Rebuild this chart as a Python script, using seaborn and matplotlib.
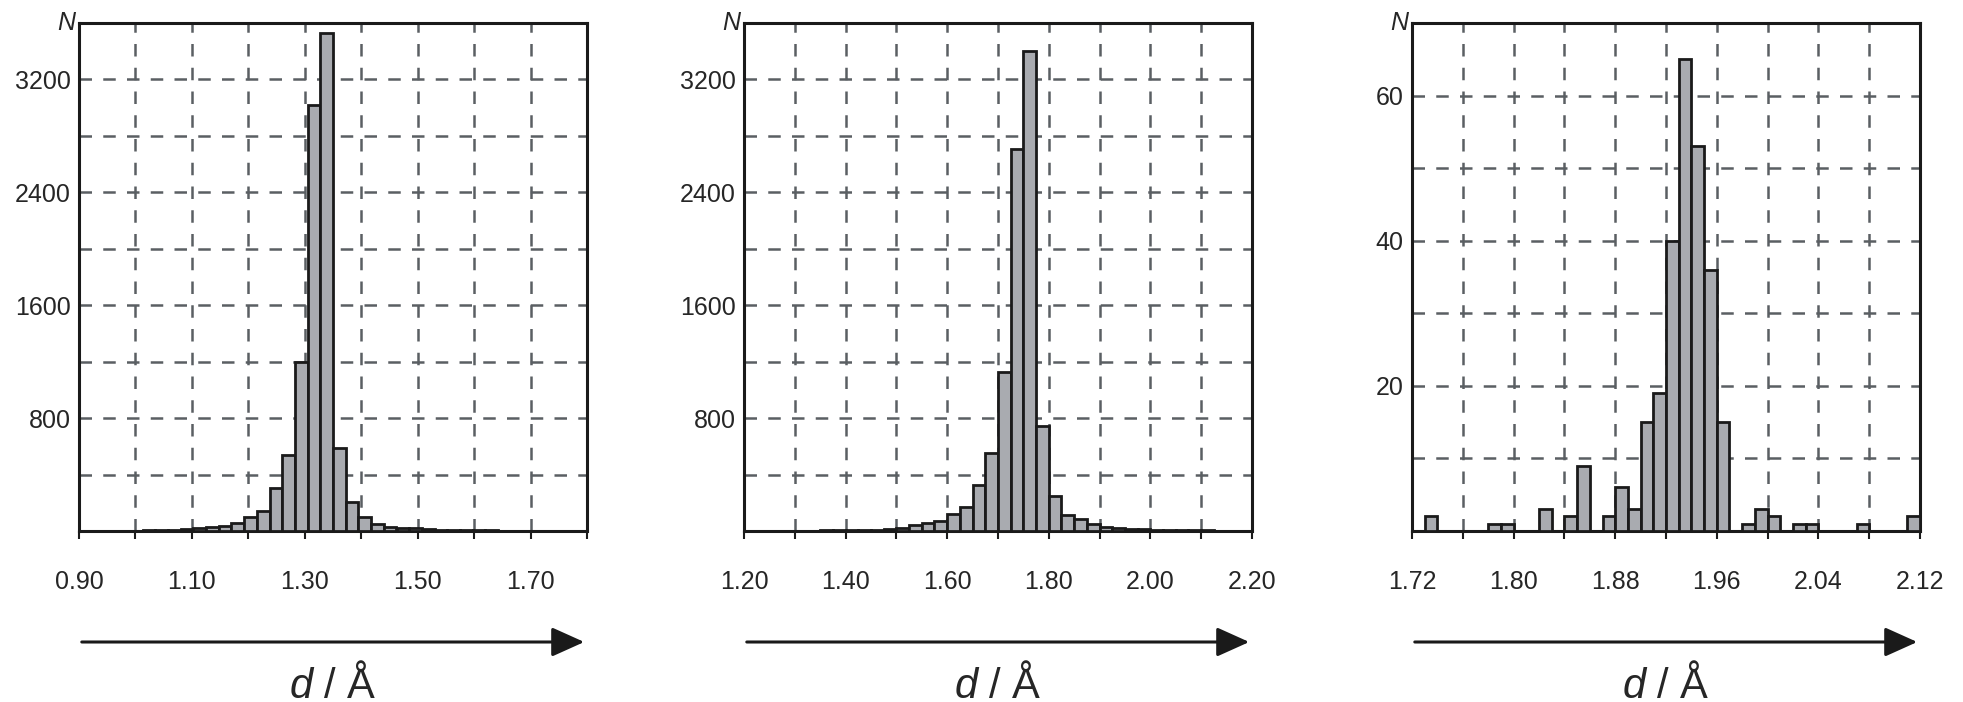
import numpy as np
import pandas as pd
import matplotlib
matplotlib.use("Agg")
import matplotlib.pyplot as plt
import seaborn as sns

# ---- data (bin counts) ----
edges1 = np.round(np.linspace(0.90, 1.80, 41), 5)
counts1 = [0, 0, 0, 2, 3, 5, 6, 8, 12, 18, 25, 35, 60, 100, 140, 305, 540, 1195, 3020, 3530,
           590, 205, 100, 50, 30, 22, 18, 14, 10, 8, 6, 5, 4, 3, 3, 2, 2, 1, 1, 1]
edges2 = np.round(np.linspace(1.20, 2.20, 41), 5)
counts2 = [1, 1, 2, 2, 3, 3, 4, 5, 6, 8, 10, 14, 20, 42, 57, 71, 120, 170, 325, 552,
           1125, 2710, 3405, 743, 248, 113, 85, 50, 28, 20, 15, 12, 10, 8, 6, 5, 4, 3, 2, 2]
edges3 = np.round(np.linspace(1.72, 2.12, 41), 5)
counts3 = [0, 2, 0, 0, 0, 0, 1, 1, 0, 0, 3, 0, 2, 9, 0, 2, 6, 3, 15, 19,
           40, 65, 53, 36, 15, 0, 1, 3, 2, 0, 1, 1, 0, 0, 0, 1, 0, 0, 0, 2]

xticks1 = [0.90, 1.10, 1.30, 1.50, 1.70]
xticks2 = [1.20, 1.40, 1.60, 1.80, 2.00, 2.20]
xticks3 = [1.72, 1.80, 1.88, 1.96, 2.04, 2.12]
yticks12 = [800, 1600, 2400, 3200]
yticks3 = [20, 40, 60]

sns.set_style("white")
plt.rcParams['font.family'] = ['Liberation Sans', 'DejaVu Sans']
plt.rcParams['mathtext.fontset'] = 'custom'
plt.rcParams['mathtext.it'] = 'Liberation Sans:italic'
plt.rcParams['mathtext.rm'] = 'Liberation Sans'

fig = plt.figure(figsize=(19.63, 7.02), dpi=100)
lefts = [79, 744, 1412]
W, H = 1963, 702
axw = 508
bottom = (H - 531) / H
height = 508 / H

panels = [
    (edges1, counts1, xticks1, np.arange(0.90, 1.80001, 0.1), (0.90, 1.80), yticks12, np.arange(400, 3600, 400), 3600),
    (edges2, counts2, xticks2, np.arange(1.20, 2.20001, 0.1), (1.20, 2.20), yticks12, np.arange(400, 3600, 400), 3600),
    (edges3, counts3, xticks3, np.arange(1.72, 2.12001, 0.04), (1.72, 2.12), yticks3, np.arange(10, 70, 10), 70),
]
gridcol = '#5a5f63'
for (edges, counts, xt, xgrid, xl, yt, ygrid, ytop), L in zip(panels, lefts):
    ax = fig.add_axes([L / W, bottom, axw / W, height])
    centers = (np.array(edges[:-1]) + np.array(edges[1:])) / 2
    df = pd.DataFrame({'d': centers, 'n': np.asarray(counts, dtype=float)})
    sns.histplot(data=df, x='d', weights='n', bins=list(edges), ax=ax, color='#a9abb0',
                 edgecolor='#1a1a1a', linewidth=2.0, alpha=1.0, zorder=3)
    for g in xgrid[1:-1]:
        ax.axvline(g, color=gridcol, lw=1.8, ls=(0, (5, 4.5)), zorder=1)
    for g in ygrid:
        ax.axhline(g, color=gridcol, lw=1.8, ls=(0, (5, 4.5)), zorder=1)
    ax.set_xlim(*xl)
    ax.set_ylim(0, ytop)
    ax.set_xticks(xt)
    ax.set_xticklabels([f"{v:.2f}" for v in xt])
    ax.set_xticks(xgrid, minor=True)
    ax.set_yticks(yt)
    ax.set_yticklabels([str(v) for v in yt])
    ax.tick_params(axis='x', which='both', direction='out', length=6, width=1.5,
                   labelsize=18, pad=22, color='#1a1a1a', bottom=True)
    ax.tick_params(axis='y', length=0, labelsize=18, pad=6)
    ax.set_xlabel('')
    ax.set_ylabel('')
    for s in ax.spines.values():
        s.set_color('#1a1a1a')
        s.set_linewidth(2.2)
    ax.text(-0.008, 1.0, 'N', transform=ax.transAxes, ha='right', va='center',
            fontsize=18, fontstyle='italic')
    y_arrow = (H - 642) / H
    fig.add_artist(matplotlib.patches.FancyArrowPatch(
        (L / W, y_arrow), ((L + axw) / W, y_arrow), transform=fig.transFigure,
        arrowstyle='-|>,head_length=1.0,head_width=0.45', mutation_scale=20,
        color='#1a1a1a', lw=2.2))
    fig.text((L + axw / 2) / W, (H - 686) / H, r'$d$ / Å', ha='center', va='center',
             fontsize=30)

fig.savefig('out.png', dpi=100)
